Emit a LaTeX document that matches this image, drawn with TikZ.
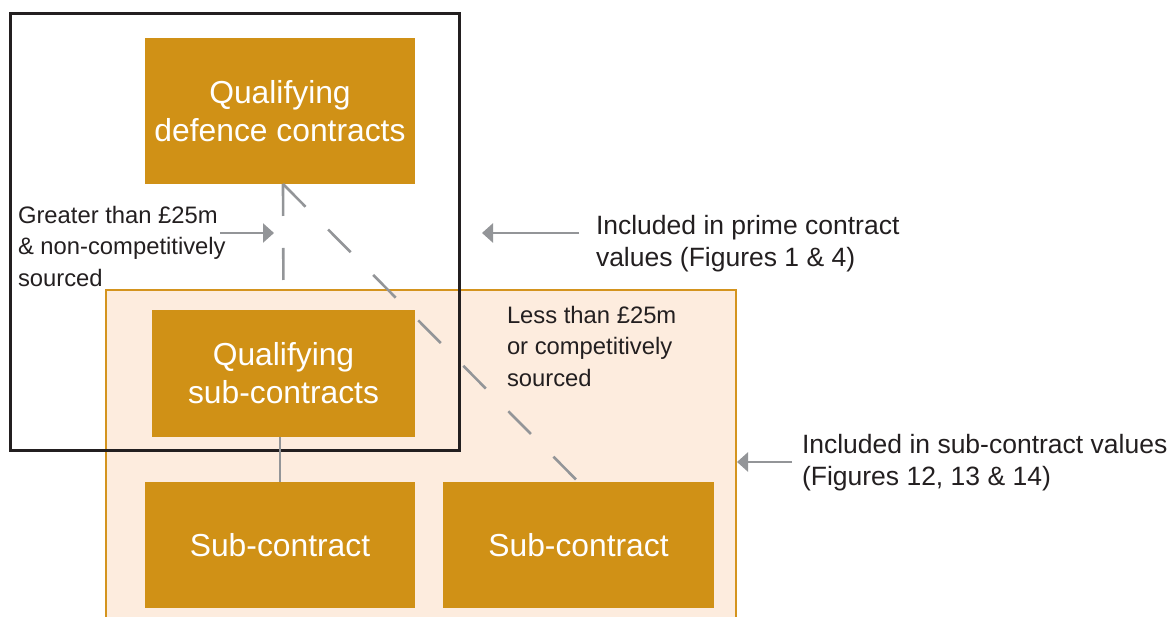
\documentclass[tikz,border=0pt]{standalone}
\usepackage{fontspec}
\setmainfont{Liberation Sans}
\usetikzlibrary{arrows.meta,calc}
\definecolor{gold}{RGB}{208,145,22}
\definecolor{peach}{RGB}{253,236,222}
\definecolor{peachedge}{RGB}{212,148,30}
\definecolor{frame}{RGB}{35,31,32}
\definecolor{link}{RGB}{147,149,152}
\definecolor{ink}{RGB}{35,31,32}

\begin{document}
\begin{tikzpicture}[x=1pt,y=-1pt,
  goldbox/.style={fill=gold, text=white, inner sep=0pt, outer sep=0pt, align=center,
    font=\fontsize{31.8}{38}\selectfont},
  note/.style={text=ink, inner sep=0pt, outer sep=0pt, align=left, anchor=north west,
    font=\fontsize{23.8}{31.5}\selectfont},
  bignote/.style={text=ink, inner sep=0pt, outer sep=0pt, align=left, anchor=north west,
    font=\fontsize{26.5}{32.5}\selectfont},
  dashlink/.style={draw=link, line width=2.6pt, dash pattern=on 32pt off 32pt},
  solidlink/.style={draw=link, line width=2.4pt},
  pointer/.style={draw=link, line width=2.6pt, -{Triangle[length=11pt,width=19pt]}},
]
\useasboundingbox (0,0) rectangle (1171,617);

% sub-contract value region (runs off the bottom edge)
\begin{scope}
  \clip (0,0) rectangle (1171,617);
  \fill[peach] (106,290) rectangle (736,640);
  \draw[peachedge, line width=2.4pt] (106,640) -- (106,290) -- (736,290) -- (736,640);
\end{scope}

% prime contract value region
\draw[frame, line width=3pt] (10,14) rectangle (459,451);

% contract boxes
\node[goldbox, minimum width=270pt, minimum height=146pt] (q1) at (280,111)
  {Qualifying\\defence contracts};
\node[goldbox, minimum width=263pt, minimum height=127pt] (q2) at (283.5,373.5)
  {Qualifying\\sub-contracts};
\node[goldbox, minimum width=270pt, minimum height=126pt] (s1) at (280,545)
  {Sub-contract};
\node[goldbox, minimum width=271pt, minimum height=126pt] (s2) at (578.5,545)
  {Sub-contract};

% links between contracts
\coordinate (split) at (283,184);
\draw[dashlink] (split) -- (q2.north);
\draw[dashlink] (split) -- (s2.north);
\draw[solidlink] (s1.north |- q2.south) -- (s1.north);

% notes
\node[note] (gt) at (18,206) {Greater than £25m\\\& non-competitively\\sourced};
\node[note] (lt) at (507,306) {Less than £25m\\or competitively\\sourced};
\node[bignote] (prime) at (596,215) {Included in prime contract\\values (Figures 1 \& 4)};
\node[bignote] (sub) at (802,434) {Included in sub-contract values\\(Figures 12, 13 \& 14)};

% pointers
\coordinate (gtA) at (220,233);
\coordinate (gtB) at (274,233);
\coordinate (prA) at (579,233);
\coordinate (prB) at (482,233);
\coordinate (sbA) at (792,462);
\coordinate (sbB) at (737,462);
\draw[pointer] (gtA) -- (gtB);
\draw[pointer] (prA) -- (prB);
\draw[pointer] (sbA) -- (sbB);
\end{tikzpicture}
\end{document}
